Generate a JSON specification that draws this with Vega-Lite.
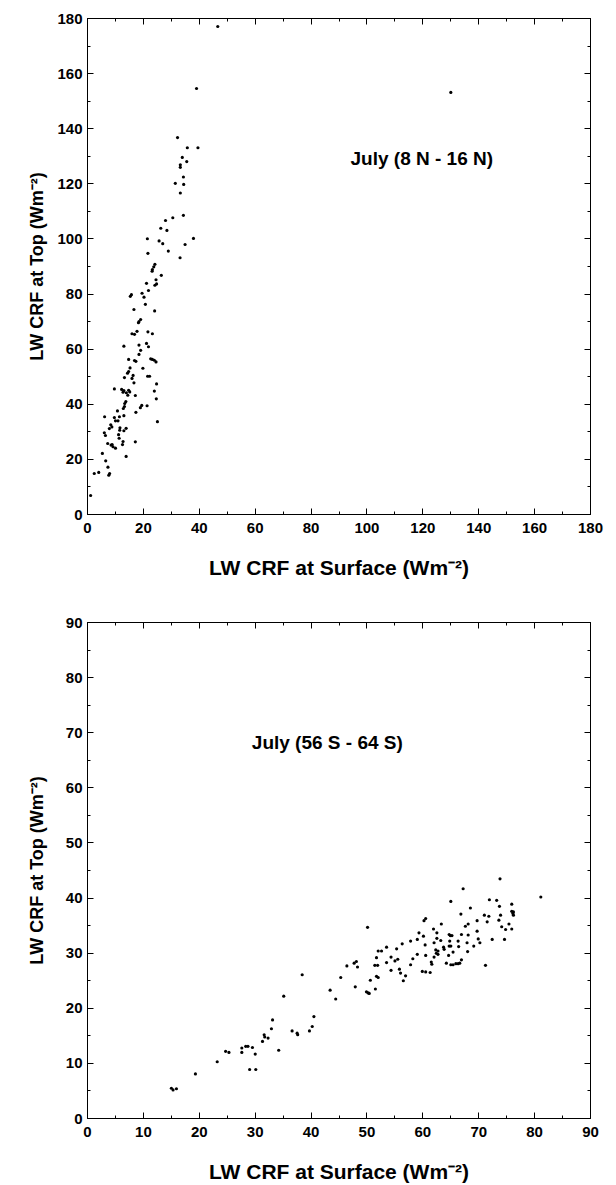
{
  "$schema": "https://vega.github.io/schema/vega-lite/v6.json",
  "background": "white",
  "padding": {"left": 27, "top": 10, "right": 10, "bottom": 0},
  "spacing": 35,
  "config": {
    "view": {"stroke": "black", "strokeWidth": 1},
    "font": "Liberation Sans",
    "axis": {
      "domainColor": "black", "domainWidth": 1, "tickColor": "black", "tickWidth": 1,
      "labelFont": "Liberation Sans", "labelFontWeight": "bold", "labelFontSize": 15, "labelColor": "black",
      "titleFont": "Liberation Sans", "titleFontWeight": "bold", "titleFontSize": 21, "titleColor": "black",
      "grid": false, "labelOverlap": false, "labelFlush": false
    }
  },
  "datasets": {
    "top": [
      {"x":39.2,"y":154.4},{"x":32.4,"y":136.6},{"x":35.9,"y":132.9},{"x":39.7,"y":132.9},{"x":34.1,"y":129.4},{"x":35.7,"y":127.9},{"x":33.4,"y":126.7},{"x":33.4,"y":125.8},{"x":34.5,"y":122.3},{"x":46.8,"y":176.9},{"x":130.2,"y":153},
      {"x":31.6,"y":120.0},{"x":34.6,"y":119.6},{"x":33.4,"y":116.5},{"x":34.5,"y":108.4},{"x":30.7,"y":107.5},{"x":28.1,"y":106.5},{"x":26.4,"y":103.7},{"x":28.6,"y":102.9},{"x":38.1,"y":100.0},{"x":21.6,"y":99.9},{"x":25.8,"y":99.1},{"x":27.1,"y":98.1},{"x":35.1,"y":97.8},{"x":29.1,"y":95.4},{"x":21.8,"y":94.6},{"x":33.3,"y":93.0},{"x":24.3,"y":90.6},{"x":23.9,"y":89.7},{"x":23.4,"y":88.7},{"x":23.3,"y":88.1},{"x":26.6,"y":86.6},{"x":24.7,"y":85.0},{"x":21.3,"y":83.7},{"x":24.9,"y":83.5},{"x":24.3,"y":83.0},{"x":22.0,"y":81.1},{"x":15.9,"y":79.6},{"x":15.5,"y":79.0},{"x":19.7,"y":80.1},{"x":20.4,"y":78.7},{"x":20.9,"y":76.1},{"x":16.8,"y":74.2},{"x":24.2,"y":73.7},{"x":19.2,"y":70.6},{"x":18.6,"y":69.8},{"x":18.4,"y":69.4},{"x":16.1,"y":65.4},{"x":17.0,"y":65.2},{"x":17.9,"y":66.3},{"x":21.8,"y":66.1},{"x":23.4,"y":65.4},
      {"x":13.2,"y":60.9},{"x":18.6,"y":61.3},{"x":21.3,"y":61.9},{"x":22.0,"y":60.7},{"x":19.2,"y":59.4},{"x":18.6,"y":57.9},{"x":17.0,"y":55.7},{"x":17.5,"y":55.4},{"x":22.8,"y":56.3},{"x":23.4,"y":56.1},{"x":24.1,"y":55.8},{"x":24.7,"y":55.2},{"x":14.9,"y":56.1},{"x":20.0,"y":52.9},{"x":15.4,"y":53.0},{"x":14.9,"y":51.7},{"x":14.5,"y":51.1},{"x":16.5,"y":50.3},{"x":16.1,"y":49.2},{"x":13.4,"y":49.5},{"x":21.7,"y":50.0},{"x":22.4,"y":50.0},{"x":16.8,"y":47.6},{"x":24.9,"y":47.2},{"x":9.8,"y":45.4},{"x":12.4,"y":45.2},{"x":13.2,"y":44.8},{"x":12.9,"y":44.2},{"x":14.9,"y":44.9},{"x":15.3,"y":44.3},{"x":14.1,"y":44.0},{"x":14.6,"y":43.1},{"x":24.1,"y":44.6},{"x":17.3,"y":43.0},{"x":24.8,"y":41.8},{"x":13.9,"y":40.8},{"x":13.5,"y":40.1},{"x":13.4,"y":39.0},{"x":13.0,"y":38.3},{"x":19.6,"y":39.4},{"x":19.1,"y":38.6},{"x":21.5,"y":39.3},{"x":17.5,"y":36.9},{"x":10.9,"y":37.4},{"x":6.3,"y":35.3},{"x":13.2,"y":35.7},{"x":25.2,"y":33.5},{"x":9.8,"y":35.0},{"x":10.2,"y":33.8},{"x":11.1,"y":33.8},{"x":11.6,"y":35.3},{"x":8.5,"y":32.4},{"x":8.9,"y":31.6},{"x":8.0,"y":31.0},{"x":11.8,"y":31.3},{"x":11.7,"y":30.4},{"x":14.0,"y":31.1},{"x":13.2,"y":30.2},{"x":6.2,"y":29.5},{"x":6.6,"y":28.5},{"x":11.3,"y":28.8},{"x":11.5,"y":27.5},{"x":12.9,"y":26.3},{"x":12.7,"y":25.2},{"x":7.4,"y":25.6},{"x":8.6,"y":25.0},{"x":9.3,"y":24.4},{"x":10.2,"y":23.9},{"x":9.0,"y":25.2},{"x":17.3,"y":26.2},{"x":14.0,"y":20.9},{"x":5.5,"y":22.0},{"x":6.7,"y":19.3},{"x":7.5,"y":17.0},{"x":8.1,"y":14.7},{"x":7.8,"y":14.1},{"x":2.6,"y":14.7},{"x":4.2,"y":15.1},{"x":1.3,"y":6.7}
    ],
    "bottom": [
      {"x":15.1,"y":5.4},{"x":15.4,"y":5.1},{"x":16.0,"y":5.3},{"x":19.4,"y":8.0},{"x":23.3,"y":10.2},{"x":24.8,"y":12.1},{"x":25.4,"y":11.9},
      {"x":27.7,"y":12.7},{"x":27.7,"y":11.9},{"x":28.4,"y":13.0},{"x":28.8,"y":13.0},{"x":29.6,"y":12.8},{"x":30.1,"y":11.6},{"x":29.1,"y":8.8},{"x":30.2,"y":8.8},{"x":31.4,"y":13.9},{"x":31.7,"y":15.1},{"x":31.8,"y":14.7},{"x":32.4,"y":14.5},{"x":33.0,"y":16.2},{"x":33.2,"y":17.8},{"x":34.3,"y":12.3},{"x":35.2,"y":22.1},{"x":36.7,"y":15.8},{"x":37.6,"y":15.4},{"x":37.7,"y":15.1},{"x":38.5,"y":26.0},{"x":39.8,"y":15.8},{"x":40.3,"y":16.6},{"x":40.6,"y":18.4},{"x":43.5,"y":23.2},{"x":44.5,"y":21.6},{"x":45.4,"y":25.5},{"x":46.5,"y":27.6},{"x":47.8,"y":28.1},{"x":48.2,"y":28.4},{"x":48.4,"y":27.4},{"x":48.0,"y":23.8},{"x":50.2,"y":34.6},{"x":50.0,"y":22.9},{"x":50.3,"y":22.7},{"x":50.5,"y":22.6},{"x":50.7,"y":25.0},{"x":51.6,"y":23.4},{"x":51.8,"y":29.1},{"x":51.5,"y":27.7},{"x":52.0,"y":27.7},{"x":51.8,"y":25.7},{"x":52.1,"y":25.5},{"x":52.1,"y":30.3},{"x":52.7,"y":30.3},{"x":53.6,"y":31.0},{"x":53.6,"y":28.2},{"x":54.4,"y":29.2},{"x":54.4,"y":26.8},{"x":55.1,"y":28.5},{"x":55.6,"y":28.8},{"x":55.4,"y":30.7},{"x":55.9,"y":27.0},{"x":56.1,"y":26.3},{"x":56.4,"y":31.6},{"x":56.6,"y":24.9},{"x":57.0,"y":25.8},{"x":57.9,"y":32.1},{"x":57.9,"y":27.8},{"x":58.3,"y":28.9},{"x":59.1,"y":32.4},{"x":59.4,"y":33.6},{"x":59.1,"y":29.7},
      {"x":60.0,"y":26.6},{"x":60.6,"y":26.5},{"x":61.4,"y":26.4},{"x":60.3,"y":35.8},{"x":60.6,"y":36.2},{"x":60.2,"y":33.0},{"x":60.5,"y":31.4},{"x":60.6,"y":29.5},{"x":61.6,"y":28.3},{"x":61.7,"y":27.9},{"x":62.0,"y":34.3},{"x":62.1,"y":31.8},{"x":62.1,"y":29.2},{"x":62.6,"y":33.6},{"x":62.4,"y":30.5},{"x":62.8,"y":30.3},{"x":62.5,"y":29.9},{"x":62.8,"y":29.7},{"x":62.6,"y":32.6},{"x":63.3,"y":32.2},{"x":63.4,"y":35.2},{"x":63.8,"y":31.0},{"x":63.9,"y":30.6},{"x":64.3,"y":28.1},{"x":64.7,"y":29.5},{"x":64.8,"y":33.3},{"x":65.0,"y":33.1},{"x":65.3,"y":33.1},{"x":64.9,"y":32.1},{"x":64.8,"y":31.2},{"x":65.1,"y":31.2},{"x":65.1,"y":39.3},{"x":65.1,"y":27.8},{"x":65.5,"y":27.8},{"x":65.5,"y":30.1},{"x":66.0,"y":28.0},{"x":66.4,"y":28.0},{"x":66.7,"y":28.1},{"x":67.0,"y":28.7},{"x":66.4,"y":32.1},{"x":66.5,"y":31.1},{"x":66.9,"y":37.0},{"x":67.0,"y":33.3},{"x":67.3,"y":41.6},{"x":67.7,"y":34.8},{"x":68.2,"y":35.2},{"x":68.0,"y":31.8},{"x":68.2,"y":33.2},{"x":68.1,"y":30.2},{"x":68.6,"y":38.1},{"x":69.2,"y":31.2},{"x":69.8,"y":35.8},{"x":69.8,"y":33.9},{"x":70.0,"y":32.5},{"x":70.3,"y":31.8},{"x":71.1,"y":36.8},{"x":71.6,"y":35.6},{"x":71.3,"y":27.7},{"x":71.9,"y":36.6},{"x":72.0,"y":39.6},{"x":72.5,"y":32.4},{"x":73.3,"y":39.5},{"x":73.7,"y":35.9},{"x":73.8,"y":38.4},{"x":73.9,"y":43.4},{"x":74.0,"y":36.8},{"x":74.2,"y":34.7},{"x":74.7,"y":32.4},{"x":74.9,"y":34.2},{"x":75.5,"y":35.2},{"x":76.0,"y":38.8},{"x":76.0,"y":37.5},{"x":76.3,"y":37.4},{"x":76.2,"y":37.1},{"x":76.3,"y":36.8},{"x":76.0,"y":34.3},{"x":81.2,"y":40.1}
    ]
  },
  "vconcat": [
    {
      "width": 503,
      "height": 496,
      "resolve": {"axis": {"x": "independent", "y": "independent"}},
      "layer": [
        {
          "data": {"name": "top"},
          "mark": {"type": "point", "filled": true, "color": "black", "size": 10, "opacity": 1},
          "encoding": {
            "x": {"field": "x", "type": "quantitative", "scale": {"domain": [0, 180], "nice": false, "zero": false},
              "axis": {"orient": "bottom", "title": "LW CRF at Surface (Wm⁻²)",
                "values": [0,10,20,30,40,50,60,70,80,90,100,110,120,130,140,150,160,170,180],
                "labelExpr": "datum.value % 20 === 0 ? datum.label : ''",
                "tickSize": {"condition": {"test": "datum.value % 20 === 0", "value": -6}, "value": -3},
                "labelPadding": 12, "minExtent": 22, "maxExtent": 22, "titlePadding": 21}},
            "y": {"field": "y", "type": "quantitative", "scale": {"domain": [0, 180], "nice": false, "zero": false},
              "axis": {"orient": "left", "title": "LW CRF at Top (Wm⁻²)", "titleFontSize": 18,
                "values": [0,10,20,30,40,50,60,70,80,90,100,110,120,130,140,150,160,170,180],
                "labelExpr": "datum.value % 20 === 0 ? datum.label : ''",
                "tickSize": {"condition": {"test": "datum.value % 20 === 0", "value": -6}, "value": -3},
                "labelPadding": 11, "minExtent": 33, "maxExtent": 33, "titlePadding": 8}}
          }
        },
        {
          "data": {"values": [{"x": 119.8, "y": 129, "label": "July (8 N - 16 N)"}]},
          "mark": {"type": "text", "font": "Liberation Sans", "fontWeight": "bold", "fontSize": 19, "color": "black", "align": "center", "baseline": "middle"},
          "encoding": {
            "x": {"field": "x", "type": "quantitative", "scale": {"domain": [0, 180], "nice": false, "zero": false},
              "axis": {"orient": "top", "title": null, "labels": false,
                "values": [0,10,20,30,40,50,60,70,80,90,100,110,120,130,140,150,160,170,180],
                "tickSize": {"condition": {"test": "datum.value % 20 === 0", "value": -6}, "value": -3}}},
            "y": {"field": "y", "type": "quantitative", "scale": {"domain": [0, 180], "nice": false, "zero": false},
              "axis": {"orient": "right", "title": null, "labels": false,
                "values": [0,10,20,30,40,50,60,70,80,90,100,110,120,130,140,150,160,170,180],
                "tickSize": {"condition": {"test": "datum.value % 20 === 0", "value": -6}, "value": -3}}},
            "text": {"field": "label"}
          }
        }
      ]
    },
    {
      "width": 503,
      "height": 496,
      "resolve": {"axis": {"x": "independent", "y": "independent"}},
      "layer": [
        {
          "data": {"name": "bottom"},
          "mark": {"type": "point", "filled": true, "color": "black", "size": 10, "opacity": 1},
          "encoding": {
            "x": {"field": "x", "type": "quantitative", "scale": {"domain": [0, 90], "nice": false, "zero": false},
              "axis": {"orient": "bottom", "title": "LW CRF at Surface (Wm⁻²)",
                "values": [0,5,10,15,20,25,30,35,40,45,50,55,60,65,70,75,80,85,90],
                "labelExpr": "datum.value % 10 === 0 ? datum.label : ''",
                "tickSize": {"condition": {"test": "datum.value % 10 === 0", "value": -6}, "value": -3},
                "labelPadding": 12, "minExtent": 22, "maxExtent": 22, "titlePadding": 21}},
            "y": {"field": "y", "type": "quantitative", "scale": {"domain": [0, 90], "nice": false, "zero": false},
              "axis": {"orient": "left", "title": "LW CRF at Top (Wm⁻²)", "titleFontSize": 18,
                "values": [0,5,10,15,20,25,30,35,40,45,50,55,60,65,70,75,80,85,90],
                "labelExpr": "datum.value % 10 === 0 ? datum.label : ''",
                "tickSize": {"condition": {"test": "datum.value % 10 === 0", "value": -6}, "value": -3},
                "labelPadding": 11, "minExtent": 33, "maxExtent": 33, "titlePadding": 8}}
          }
        },
        {
          "data": {"values": [{"x": 43, "y": 68, "label": "July (56 S - 64 S)"}]},
          "mark": {"type": "text", "font": "Liberation Sans", "fontWeight": "bold", "fontSize": 19, "color": "black", "align": "center", "baseline": "middle"},
          "encoding": {
            "x": {"field": "x", "type": "quantitative", "scale": {"domain": [0, 90], "nice": false, "zero": false},
              "axis": {"orient": "top", "title": null, "labels": false,
                "values": [0,5,10,15,20,25,30,35,40,45,50,55,60,65,70,75,80,85,90],
                "tickSize": {"condition": {"test": "datum.value % 10 === 0", "value": -6}, "value": -3}}},
            "y": {"field": "y", "type": "quantitative", "scale": {"domain": [0, 90], "nice": false, "zero": false},
              "axis": {"orient": "right", "title": null, "labels": false,
                "values": [0,5,10,15,20,25,30,35,40,45,50,55,60,65,70,75,80,85,90],
                "tickSize": {"condition": {"test": "datum.value % 10 === 0", "value": -6}, "value": -3}}},
            "text": {"field": "label"}
          }
        }
      ]
    }
  ]
}
